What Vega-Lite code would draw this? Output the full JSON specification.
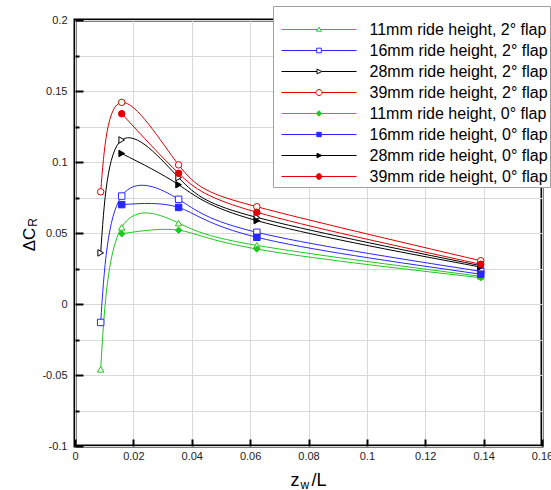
{
  "$schema": "https://vega.github.io/schema/vega-lite/v6.json",
  "width": 467,
  "height": 426,
  "autosize": {"type": "none"},
  "padding": {"left": 75, "top": 20, "right": 9, "bottom": 44},
  "background": "white",
  "config": {"font": "Liberation Sans", "view": {"stroke": "black", "strokeWidth": 3}},
  "data": {"values": [
    {"series": "11mm ride height, 2° flap", "x": 0.0088, "y": -0.046},
    {"series": "11mm ride height, 2° flap", "x": 0.016, "y": 0.054},
    {"series": "11mm ride height, 2° flap", "x": 0.0355, "y": 0.057},
    {"series": "11mm ride height, 2° flap", "x": 0.0623, "y": 0.0413},
    {"series": "11mm ride height, 2° flap", "x": 0.139, "y": 0.0195},
    {"series": "16mm ride height, 2° flap", "x": 0.0088, "y": -0.013},
    {"series": "16mm ride height, 2° flap", "x": 0.016, "y": 0.076},
    {"series": "16mm ride height, 2° flap", "x": 0.0355, "y": 0.0737},
    {"series": "16mm ride height, 2° flap", "x": 0.0623, "y": 0.0505},
    {"series": "16mm ride height, 2° flap", "x": 0.139, "y": 0.023},
    {"series": "28mm ride height, 2° flap", "x": 0.0088, "y": 0.036},
    {"series": "28mm ride height, 2° flap", "x": 0.016, "y": 0.1155},
    {"series": "28mm ride height, 2° flap", "x": 0.0355, "y": 0.089},
    {"series": "28mm ride height, 2° flap", "x": 0.0623, "y": 0.061},
    {"series": "28mm ride height, 2° flap", "x": 0.139, "y": 0.027},
    {"series": "39mm ride height, 2° flap", "x": 0.0088, "y": 0.079},
    {"series": "39mm ride height, 2° flap", "x": 0.016, "y": 0.142},
    {"series": "39mm ride height, 2° flap", "x": 0.0355, "y": 0.098},
    {"series": "39mm ride height, 2° flap", "x": 0.0623, "y": 0.0685},
    {"series": "39mm ride height, 2° flap", "x": 0.139, "y": 0.0305},
    {"series": "11mm ride height, 0° flap", "x": 0.016, "y": 0.0495},
    {"series": "11mm ride height, 0° flap", "x": 0.0355, "y": 0.052},
    {"series": "11mm ride height, 0° flap", "x": 0.0623, "y": 0.0387},
    {"series": "11mm ride height, 0° flap", "x": 0.139, "y": 0.0185},
    {"series": "16mm ride height, 0° flap", "x": 0.016, "y": 0.070},
    {"series": "16mm ride height, 0° flap", "x": 0.0355, "y": 0.068},
    {"series": "16mm ride height, 0° flap", "x": 0.0623, "y": 0.047},
    {"series": "16mm ride height, 0° flap", "x": 0.139, "y": 0.021},
    {"series": "28mm ride height, 0° flap", "x": 0.016, "y": 0.106},
    {"series": "28mm ride height, 0° flap", "x": 0.0355, "y": 0.084},
    {"series": "28mm ride height, 0° flap", "x": 0.0623, "y": 0.0587},
    {"series": "28mm ride height, 0° flap", "x": 0.139, "y": 0.026},
    {"series": "39mm ride height, 0° flap", "x": 0.016, "y": 0.134},
    {"series": "39mm ride height, 0° flap", "x": 0.0355, "y": 0.092},
    {"series": "39mm ride height, 0° flap", "x": 0.0623, "y": 0.0646},
    {"series": "39mm ride height, 0° flap", "x": 0.139, "y": 0.028}
  ]},
  "encoding": {
    "stroke": {
      "field": "series", "type": "nominal",
      "scale": {
        "domain": ["11mm ride height, 2° flap", "16mm ride height, 2° flap", "28mm ride height, 2° flap", "39mm ride height, 2° flap", "11mm ride height, 0° flap", "16mm ride height, 0° flap", "28mm ride height, 0° flap", "39mm ride height, 0° flap"],
        "range": ["#1ec81e", "#2828ff", "#000000", "#e00000", "#1ec81e", "#2828ff", "#000000", "#e00000"]
      },
      "legend": {
        "orient": "none", "legendX": 198, "legendY": -14,
        "title": " ", "titleFontSize": 8, "titlePadding": 5,
        "padding": 2, "symbolOffset": 35.5, "labelOffset": 42,
        "rowPadding": 4,
        "fillColor": "white", "strokeColor": "#a0a0a0",
        "labelFontSize": 16, "labelColor": "black", "labelLimit": 400,
        "symbolSize": 256, "symbolStrokeWidth": 1,
        "encode": {
          "symbols": {
            "update": {
              "shape": {"signal": "datum.value == '11mm ride height, 2° flap' ? 'M-4.69,0H-0.19M0.19,0H4.69M-0.31,0.21L0.31,0.21L0,-0.29Z' : datum.value == '16mm ride height, 2° flap' ? 'M-4.69,0H-0.29M0.29,0H4.69M-0.29,-0.29H0.29V0.29H-0.29Z' : datum.value == '28mm ride height, 2° flap' ? 'M-4.69,0H-0.25M0.35,0H4.69M-0.25,-0.3L0.35,0L-0.25,0.3Z' : datum.value == '39mm ride height, 2° flap' ? 'M-4.69,0H-0.375M0.375,0H4.69M-0.375,0A0.375,0.375,0,1,0,0.375,0A0.375,0.375,0,1,0,-0.375,0Z' : datum.value == '11mm ride height, 0° flap' ? 'M-4.69,0H4.69M0,-0.35L0.35,0L0,0.35L-0.35,0Z' : datum.value == '16mm ride height, 0° flap' ? 'M-4.69,0H4.69M-0.275,-0.275H0.275V0.275H-0.275Z' : datum.value == '28mm ride height, 0° flap' ? 'M-4.69,0H4.69M-0.25,-0.28L0.35,0L-0.25,0.28Z' : 'M-4.69,0H4.69M-0.35,0A0.35,0.35,0,1,0,0.35,0A0.35,0.35,0,1,0,-0.35,0Z'"},
              "fill": {"signal": "indexof(datum.value, '2°') >= 0 ? 'white' : scale('stroke', datum.value)"},
              "opacity": {"value": 1},
              "strokeWidth": {"value": 1}
            }
          }
        }
      }
    },
    "x": {
      "field": "x", "type": "quantitative",
      "scale": {"domain": [0, 0.16], "nice": false, "zero": false},
      "axis": {
        "orient": "bottom",
        "values": [0, 0.02, 0.04, 0.06, 0.08, 0.1, 0.12, 0.14, 0.16],
        "format": "~g",
        "grid": true, "gridColor": "#d9d9d9", "gridWidth": 1,
        "domain": false,
        "ticks": true, "tickColor": "black", "tickWidth": 2, "tickSize": -7,
        "labelFontSize": 11, "labelColor": "#222222", "labelPadding": 11,
        "labelFlush": false,
        "title": "z", "titleFontSize": 18, "titleFontWeight": "normal", "titleColor": "black",
        "titleX": 215, "titleY": 39, "titleAlign": "left", "titleBaseline": "alphabetic"
      }
    },
    "y": {
      "field": "y", "type": "quantitative",
      "scale": {"domain": [-0.1, 0.2], "nice": false, "zero": false},
      "axis": {
        "orient": "left",
        "values": [-0.1, -0.075, -0.05, -0.025, 0, 0.025, 0.05, 0.075, 0.1, 0.125, 0.15, 0.175, 0.2],
        "labelExpr": "round(datum.value*40) % 2 == 0 ? replace(format(datum.value, '~g'), '−', '-') : ''",
        "grid": true, "gridColor": "#d9d9d9", "gridWidth": 1,
        "domain": false,
        "ticks": true, "tickColor": "black", "tickWidth": 2,
        "tickSize": {"condition": {"test": "round(datum.value*40) % 2 == 0", "value": -8}, "value": -4},
        "labelFontSize": 11, "labelColor": "#222222", "labelPadding": 16,
        "labelFlush": false,
        "title": "ΔC", "titleFontSize": 17, "titleFontWeight": "normal", "titleColor": "black",
        "titleAngle": 270, "titleX": -41, "titleY": 219, "titleAlign": "center", "titleBaseline": "alphabetic"
      }
    }
  },
  "resolve": {"axis": {"x": "independent", "y": "independent"}},
  "layer": [
    {"mark": {"type": "line", "interpolate": "natural", "strokeWidth": 1}},
    {
      "transform": [{"filter": "indexof(datum.series, '2°') >= 0"}],
      "mark": {"type": "point", "opacity": 1, "strokeWidth": 1, "size": 42},
      "encoding": {
        "x": {
          "field": "x", "type": "quantitative",
          "axis": {
            "orient": "bottom", "labels": false, "ticks": false, "domain": false, "grid": false,
            "title": "w", "titleFontSize": 12, "titleFontWeight": "normal", "titleColor": "black",
            "titleX": 225, "titleY": 42, "titleAlign": "left", "titleBaseline": "alphabetic"
          }
        },
        "y": {
          "field": "y", "type": "quantitative",
          "axis": {
            "orient": "left", "labels": false, "ticks": false, "domain": false, "grid": false,
            "title": "R", "titleFontSize": 12, "titleFontWeight": "normal", "titleColor": "black",
            "titleAngle": 270, "titleX": -39, "titleY": 202, "titleAlign": "center", "titleBaseline": "alphabetic"
          }
        },
        "shape": {
          "field": "series", "type": "nominal", "legend": null,
          "scale": {
            "domain": ["11mm ride height, 0° flap", "16mm ride height, 0° flap", "28mm ride height, 0° flap", "39mm ride height, 0° flap", "11mm ride height, 2° flap", "16mm ride height, 2° flap", "28mm ride height, 2° flap", "39mm ride height, 2° flap"],
            "range": ["diamond", "square", "triangle-right", "circle", "triangle-up", "square", "triangle-right", "circle"]
          }
        },
        "fill": {
          "field": "series", "type": "nominal", "legend": null,
          "scale": {
            "domain": ["39mm ride height, 0° flap", "28mm ride height, 0° flap", "16mm ride height, 0° flap", "11mm ride height, 0° flap", "39mm ride height, 2° flap", "28mm ride height, 2° flap", "16mm ride height, 2° flap", "11mm ride height, 2° flap"],
            "range": ["#e00000", "#000000", "#2828ff", "#1ec81e", "white", "white", "white", "white"]
          }
        }
      }
    },
    {
      "transform": [{"filter": "indexof(datum.series, '0°') >= 0"}],
      "mark": {"type": "point", "opacity": 1, "strokeWidth": 1, "size": 42},
      "encoding": {
        "x": {
          "field": "x", "type": "quantitative",
          "axis": {
            "orient": "bottom", "labels": false, "ticks": false, "domain": false, "grid": false,
            "title": "/L", "titleFontSize": 18, "titleFontWeight": "normal", "titleColor": "black",
            "titleX": 236, "titleY": 39, "titleAlign": "left", "titleBaseline": "alphabetic"
          }
        },
        "y": {
          "field": "y", "type": "quantitative",
          "axis": null
        },
        "shape": {
          "field": "series", "type": "nominal", "legend": null
        },
        "fill": {
          "field": "series", "type": "nominal", "legend": null
        }
      }
    }
  ]
}
